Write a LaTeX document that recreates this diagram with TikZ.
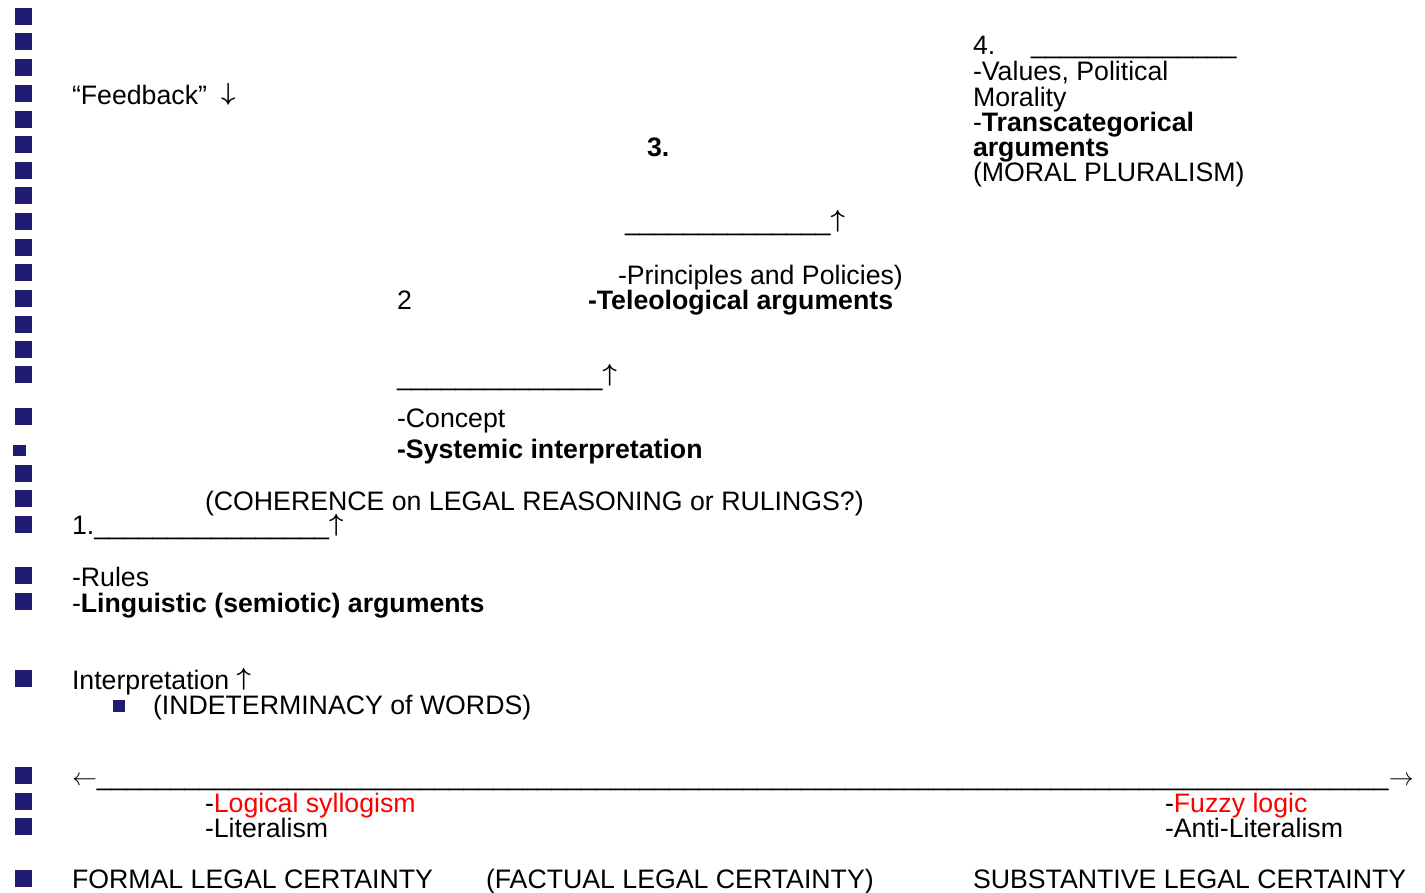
\documentclass[tikz,border=0pt]{standalone}
\usepackage{fontspec}
\setmainfont{Liberation Sans}
\definecolor{navy}{RGB}{32,28,116}
\ExplSyntaxOn
\NewDocumentCommand\usc{m}{{\fontsize{26.4}{25.6}\selectfont\prg_replicate:nn{#1}{\_}}}
\ExplSyntaxOff
\newcommand\uarr[1]{\raisebox{#1}{\fontsize{28}{28}\selectfont\boldmath$\uparrow$}}
\newcommand\darr[1]{\raisebox{#1}{\fontsize{28}{28}\selectfont\boldmath$\downarrow$}}
\tikzset{
  txt/.style={anchor=base west, inner sep=0pt, outer sep=0pt, font=\fontsize{26.7}{25.6}\selectfont},
  bul/.style={fill=navy, draw=none, inner sep=0pt, minimum size=17pt},
  smallbul/.style={fill=navy, draw=none, inner sep=0pt, minimum width=13pt, minimum height=11pt},
  tinybul/.style={fill=navy, draw=none, inner sep=0pt, minimum size=12pt},
}
\begin{document}
\begin{tikzpicture}[x=1pt,y=-1pt]
\useasboundingbox (0,0) rectangle (1425,893);
% bullets
\foreach \yy [count=\k] in {17,42,68,94,120,145,171,196,222,248,273,299,325,350,375,416,473,498,524,575,601,678,775,801,826,878}
  \node[bul] (b\k) at (23,\yy) {};
\node[smallbul] (bs) at (19.5,450.5) {};
\node[tinybul] (bt) at (119,706) {};
% texts
\node[txt] (fb) at (72,105) {“Feedback”\hspace{14pt}\darr{4pt}};
\node[txt] (n4) at (973,55) {4.};
\node[txt] (u4) at (1031,54) {\usc{14}};
\node[txt] (v1) at (973,81) {-Values, Political};
\node[txt] (v2) at (973,107) {Morality};
\node[txt] (v3) at (973,132) {-\textbf{Transcategorical}};
\node[txt] (v4) at (973,157) {\textbf{arguments}};
\node[txt] (v5) at (973,182) {(MORAL PLURALISM)};
\node[txt] (n3) at (647,157) {\textbf{3.}};
\node[txt] (u3) at (625,231) {\usc{14}\uarr{3.5pt}};
\node[txt] (p1) at (618,285) {-Principles and Policies)};
\node[txt] (n2) at (397,310) {2};
\node[txt] (p2) at (588,310) {\textbf{-Teleological arguments}};
\node[txt] (u2) at (397,385) {\usc{14}\uarr{3.5pt}};
\node[txt] (c1) at (397,428) {-Concept};
\node[txt] (c2) at (397,458) {\textbf{-Systemic interpretation}};
\node[txt] (coh) at (205,510) {(COHERENCE on LEGAL REASONING or RULINGS?)};
\node[txt] (n1) at (72,534) {1.\usc{16}\uarr{2.5pt}};
\node[txt] (r1) at (72,586) {-Rules};
\node[txt] (r2) at (72,612) {-\textbf{Linguistic (semiotic) arguments}};
\node[txt] (int) at (72,689) {Interpretation \uarr{4pt}};
\node[txt] (ind) at (153,714) {(INDETERMINACY of WORDS)};
\node[txt, font=\fontsize{26.4}{25.6}\selectfont] (axis) at (72,785) {$\leftarrow$\usc{88}$\rightarrow$};
\node[txt] (l1) at (205,812) {-\textcolor{red}{Logical syllogism}};
\node[txt] (l2) at (205,837) {-Literalism};
\node[txt] (f1) at (1165,812) {-\textcolor{red}{Fuzzy logic}};
\node[txt] (f2) at (1165,837) {-Anti-Literalism};
\node[txt] (fc) at (72,888) {FORMAL LEGAL CERTAINTY};
\node[txt] (ac) at (486,888) {(FACTUAL LEGAL CERTAINTY)};
\node[txt] (sc) at (973,888) {SUBSTANTIVE LEGAL CERTAINTY};
\end{tikzpicture}
\end{document}
